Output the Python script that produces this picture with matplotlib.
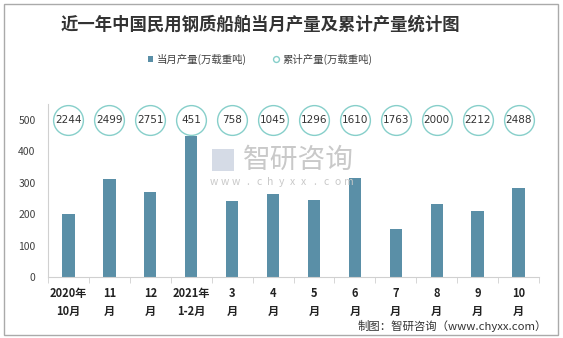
import matplotlib.pyplot as plt
from matplotlib.patches import Rectangle

plt.rcParams['font.family'] = ['Noto Sans CJK SC', 'DejaVu Sans']

# data
months = ['2020年\n10月', '11\n月', '12\n月', '2021年\n1-2月', '3\n月', '4\n月',
          '5\n月', '6\n月', '7\n月', '8\n月', '9\n月', '10\n月']
monthly = [200, 311, 270, 448, 242, 264, 245, 317, 153, 232, 212, 284]
cumulative = [2244, 2499, 2751, 451, 758, 1045, 1296, 1610, 1763, 2000, 2212, 2488]

bar_color = '#5a8fa7'
ring_color = '#86cfca'

fig = plt.figure(figsize=(5.63, 3.38), dpi=100)
ax = fig.add_axes([48/563, 1-277.3/338, 491/563, 173/338])

x = list(range(len(months)))
ax.bar(x, monthly, width=0.3, color=bar_color, zorder=2)

# cumulative values as ringed labels on the 500 line
ax.scatter(x, [500]*len(x), s=460, facecolors='white', edgecolors=ring_color,
           linewidths=1.0, zorder=3, clip_on=False)
for xi, v in zip(x, cumulative):
    ax.text(xi, 500, str(v), ha='center', va='center', fontsize=7.5,
            color='#333333', zorder=4, family='DejaVu Sans')

ax.set_xlim(-0.5, 11.5)
ax.set_ylim(0, 550)
ax.set_yticks([0, 100, 200, 300, 400, 500])
ax.tick_params(axis='y', length=0, labelsize=7.5, labelcolor='#404040', pad=9)
ax.set_xticks(x)
ax.set_xticklabels(months, fontsize=8, fontweight='bold', color='#222222',
                   linespacing=1.45)
ax.set_xticks([i + 0.5 for i in range(-1, 12)], minor=True)
ax.tick_params(axis='x', which='major', length=0, pad=7)
ax.tick_params(axis='x', which='minor', length=4, color='#d0d0d0', direction='out')
for s in ['top', 'right']:
    ax.spines[s].set_visible(False)
ax.spines['left'].set_color('#d0d0d0')
ax.spines['bottom'].set_color('#d0d0d0')

# title and legend
fig.text(260/563, 1-25/338, '近一年中国民用钢质船舶当月产量及累计产量统计图',
         ha='center', va='center', fontsize=12.5, fontweight='bold', color='#333333')
fig.patches.append(Rectangle((148/563, 1-62/338), 5/563, 6/338, transform=fig.transFigure,
                             facecolor=bar_color, edgecolor='none'))
fig.text(157/563, 1-59/338, '当月产量(万载重吨)', ha='left', va='center',
         fontsize=7.5, color='#404040')
ax.scatter([276/563], [1-59/338], s=18, facecolors='white', edgecolors=ring_color,
           linewidths=1.0, transform=fig.transFigure, clip_on=False)
fig.text(282/563, 1-59/338, '累计产量(万载重吨)', ha='left', va='center',
         fontsize=7.5, color='#404040')

# watermark
fig.text(243/563, 1-160/338, '智研咨询', ha='left', va='center', fontsize=20,
         color='#c9c9c9', zorder=1)
for i, ch in enumerate('www.chyxx.com'):
    fig.text((214 + i*11.2)/563, 1-182/338, ch, ha='center', va='center',
             fontsize=7.5, color='#c9c9c9', zorder=1)
fig.patches.append(Rectangle((212/563, 1-171/338), 22/563, 22/338, transform=fig.transFigure,
                             facecolor='#d5dbe6', edgecolor='none', zorder=0))

# source
fig.text(547/563, 1-326/338, '制图：智研咨询（www.chyxx.com）', ha='right', va='center',
         fontsize=8.2, color='#333333')

# outer frame
fig.patches.append(Rectangle((4/563, 3/338), 554/563, 331/338, transform=fig.transFigure,
                             facecolor='none', edgecolor='#aaaaaa', linewidth=1))

fig.savefig('out.png', dpi=100)
